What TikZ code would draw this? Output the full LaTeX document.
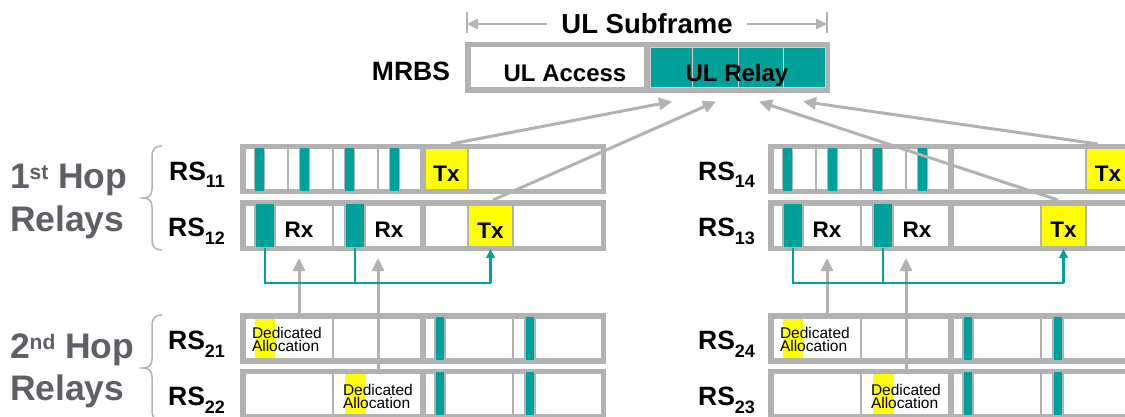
\documentclass[tikz,border=0pt]{standalone}
\usepackage{fontspec}
\setmainfont{Liberation Sans}
\usetikzlibrary{arrows.meta,fit,calc}
\definecolor{fg}{RGB}{178,178,178}
\definecolor{lg}{RGB}{205,205,205}
\definecolor{tl}{RGB}{0,161,154}
\definecolor{yl}{RGB}{255,255,0}
\definecolor{hop}{RGB}{95,95,102}
\newcommand\fsz[1]{\fontsize{#1}{#1}\selectfont}
\begin{document}
\begin{tikzpicture}[x=1pt,y=-1pt,
  every node/.style={inner sep=0pt,outer sep=0pt},
  frm/.style={fill=fg},
  wc/.style={fill=white},
  yc/.style={fill=yl},
  tc/.style={fill=tl,draw=fg,line width=1.2pt},
  rc/.style={fill=tl,draw=lg,line width=0.8pt},
  celltxt/.style={font=\fsz{22.5}\bfseries,anchor=base},
  rslbl/.style={font=\fsz{26.5}\bfseries,anchor=base east},
  hoptxt/.style={font=\fsz{35.5}\bfseries,text=hop,anchor=base west},
  ded/.style={font=\fontsize{15.5}{13}\selectfont,align=left,anchor=north west},
  garr/.style={draw=fg,line width=3pt,-{Triangle[length=13pt,width=12pt]}},
  varr/.style={garr,shorten >=7pt},
  tline/.style={draw=tl,line width=1.7pt},
  tarr/.style={draw=tl,line width=2.6pt,-{Triangle[length=9pt,width=8.5pt]},shorten >=-2pt},
  dimarr/.style={draw=fg,line width=2.5pt,-{Triangle[length=11pt,width=10pt]}},
  tick/.style={draw=fg,line width=2pt},
  brc/.style={draw=fg,line width=1.5pt}
]
\useasboundingbox (0,0) rectangle (1125,417);
\clip (0,0) rectangle (1125,417);
\fill[white] (0,0) rectangle (1125,417);

% ---------- MRBS ----------
\node[frm,fit={(465,42)(830,93)}] (mrbs) {};
\node[wc,fit={(470.5,47.5)(644,87.5)}] (acc) {};
\node[rc,fit={(650,47.5)(692,87.5)}] (r1) {};
\node[rc,fit={(692,47.5)(738,87.5)}] (r2) {};
\node[rc,fit={(738,47.5)(783,87.5)}] (r3) {};
\node[rc,fit={(783,47.5)(825,87.5)}] (r4) {};
\node[font=\fsz{24}\bfseries,anchor=base] (acct) at (565,81.5) {UL Access};
\node[font=\fsz{24}\bfseries,anchor=base] (relt) at (737,81.5) {UL Relay};
\node[font=\fsz{26.5}\bfseries,anchor=base east] (mrbst) at (450,81) {MRBS};
\node[font=\fsz{27.5}\bfseries,anchor=base] (sub) at (647,34) {UL Subframe};
\coordinate (dl) at (467,24);
\coordinate (dr) at (827,24);
\draw[dimarr] ($(sub.west |- dl)+(-14,0)$) -- (dl);
\draw[dimarr] ($(sub.east |- dr)+(14,0)$) -- (dr);
\draw[tick] ($(dl)+(0,-12)$) -- ($(dl)+(0,9)$);
\draw[tick] ($(dr)+(0,-12)$) -- ($(dr)+(0,9)$);

% ---------- relay rows (common parts) ----------
\foreach \o/\s in {0/L,528/R}{
\begin{scope}[xshift=\o pt]
  % row A
  \node[frm,fit={(240,144)(606,194.5)}] (fA\s) {};
  \foreach \a/\b in {245.5/287,289/332,334/377,379/420}
    \node[wc,fit={(\a,149.5)(\b,189)}] {};
  \foreach \k in {0,1,2,3}
    \node[tc,fit={({254.5+45*\k},147)({264.5+45*\k},191.5)}] {};
  % row B
  \node[frm,fit={(240,200)(606,251)}] (fB\s) {};
  \foreach \a/\b in {245.5/332,334/420}
    \node[wc,fit={(\a,205.5)(\b,245.5)}] {};
  \node[tc,fit={(255,203)(275,248)}] (ta\s) {};
  \node[tc,fit={(345,203)(365,248)}] (tb\s) {};
  \node[celltxt] (rxa\s) at (299,237.5) {Rx};
  \node[celltxt] (rxb\s) at (389,237.5) {Rx};
  % row C
  \node[frm,fit={(240,313)(606,363.5)}] (fC\s) {};
  \foreach \a/\b in {245.5/332,334/377,379/420,426/512,514/600.5}
    \node[wc,fit={(\a,318.5)(\b,358)}] {};
  \node[yc,fit={(255,318.5)(275,358)}] (ya\s) {};
  \node[tc,fit={(435,316)(445,360.5)}] {};
  \node[tc,fit={(525,316)(535,360.5)}] {};
  \node[ded] (da\s) at (252,327.5) {Dedicated\\Allocation};
  % row D
  \node[frm,fit={(240,368.5)(606,419)}] (fD\s) {};
  \foreach \a/\b in {245.5/332,334/420,426/512,514/600.5}
    \node[wc,fit={(\a,374)(\b,413.5)}] {};
  \node[yc,fit={(345,374)(366,413.5)}] (yb\s) {};
  \node[tc,fit={(435,371.5)(445,416)}] {};
  \node[tc,fit={(525,371.5)(535,416)}] {};
  \node[ded] (db\s) at (343,384.5) {Dedicated\\Allocation};
\end{scope}}

% ---------- specific cells ----------
\node[yc,fit={(426,149.5)(467,189)}] (tx11) {};
\node[wc,fit={(469,149.5)(600.5,189)}] {};
\node[wc,fit={(426,205.5)(467,245.5)}] {};
\node[yc,fit={(469,205.5)(512,245.5)}] (tx12) {};
\node[wc,fit={(514,205.5)(600.5,245.5)}] {};
\node[wc,fit={(954,149.5)(1085,189)}] {};
\node[yc,fit={(1087,149.5)(1128.5,189)}] (tx14) {};
\node[wc,fit={(954,205.5)(1040,245.5)}] {};
\node[yc,fit={(1042,205.5)(1085,245.5)}] (tx13) {};
\node[wc,fit={(1087,205.5)(1128.5,245.5)}] {};
\node[celltxt] (tx11t) at (446.5,181.5) {Tx};
\node[celltxt] (tx12t) at (490.5,238) {Tx};
\node[celltxt] (tx14t) at (1108,181.5) {Tx};
\node[celltxt] (tx13t) at (1063.5,237.5) {Tx};

% ---------- labels ----------
\node[rslbl] (l11) at (225,180) {RS\raisebox{-8pt}{\fsz{18}11}};
\node[rslbl] (l12) at (225,236.5) {RS\raisebox{-8pt}{\fsz{18}12}};
\node[rslbl] (l21) at (225,349) {RS\raisebox{-8pt}{\fsz{18}21}};
\node[rslbl] (l22) at (225,405.5) {RS\raisebox{-8pt}{\fsz{18}22}};
\node[rslbl] (l14) at (755,180) {RS\raisebox{-8pt}{\fsz{18}14}};
\node[rslbl] (l13) at (755,236.5) {RS\raisebox{-8pt}{\fsz{18}13}};
\node[rslbl] (l24) at (755,349) {RS\raisebox{-8pt}{\fsz{18}24}};
\node[rslbl] (l23) at (755,405.5) {RS\raisebox{-8pt}{\fsz{18}23}};
\node[hoptxt] (h1a) at (10,189) {1\raisebox{9pt}{\fsz{21}st} Hop};
\node[hoptxt] (h1b) at (10,231) {Relays};
\node[hoptxt] (h2a) at (10,358) {2\raisebox{9pt}{\fsz{21}nd} Hop};
\node[hoptxt] (h2b) at (10,400) {Relays};

% braces
\draw[brc] (162,146) .. controls (155,146) and (152,149) .. (152,157) -- (152,189)
  .. controls (152,195) and (149,198) .. (143,198)
  .. controls (149,198) and (152,201) .. (152,207) -- (152,239)
  .. controls (152,247) and (155,250) .. (162,250);
\draw[brc] (162,315) .. controls (155,315) and (152,318) .. (152,326) -- (152,359)
  .. controls (152,365) and (149,368) .. (143,368)
  .. controls (149,368) and (152,371) .. (152,377) -- (152,410)
  .. controls (152,418) and (155,421) .. (162,421);

% ---------- connectors ----------
\coordinate (vL) at (378,0);
\coordinate (vR) at (906,0);
\foreach \s in {L,R}{
  \draw[varr] (fC\s.north -| rxa\s) -- (fB\s.south -| rxa\s);
  \draw[varr] (fD\s.north -| v\s) -- (fB\s.south -| v\s);
}
\foreach \s/\x in {L/tx12,R/tx13}{
  \coordinate (j\s) at ($(ta\s.south)+(0,35)$);
  \draw[tline] (ta\s.south) -- (j\s) -- (j\s -| \x.south);
  \draw[tline] (tb\s.south) -- (tb\s.south |- j\s);
  \draw[tarr] (j\s -| \x.south) -- (fB\s.south -| \x.south);
}
\draw[garr] ($(tx11.north |- fAL.north)+(4.5,0)$) -- ($(r1.south)+(1,14)$);
\draw[garr] ($(tx12.north |- fBL.north)+(2.5,0)$) -- ($(r2.south)+(1,14)$);
\draw[garr] ($(tx13.north |- fBR.north)+(-5.5,0)$) -- ($(r3.south)+(-1.5,14)$);
\draw[garr] ($(tx14.north |- fAR.north)+(-10,0)$) -- ($(r4.south)+(-1,14)$);
\end{tikzpicture}
\end{document}
